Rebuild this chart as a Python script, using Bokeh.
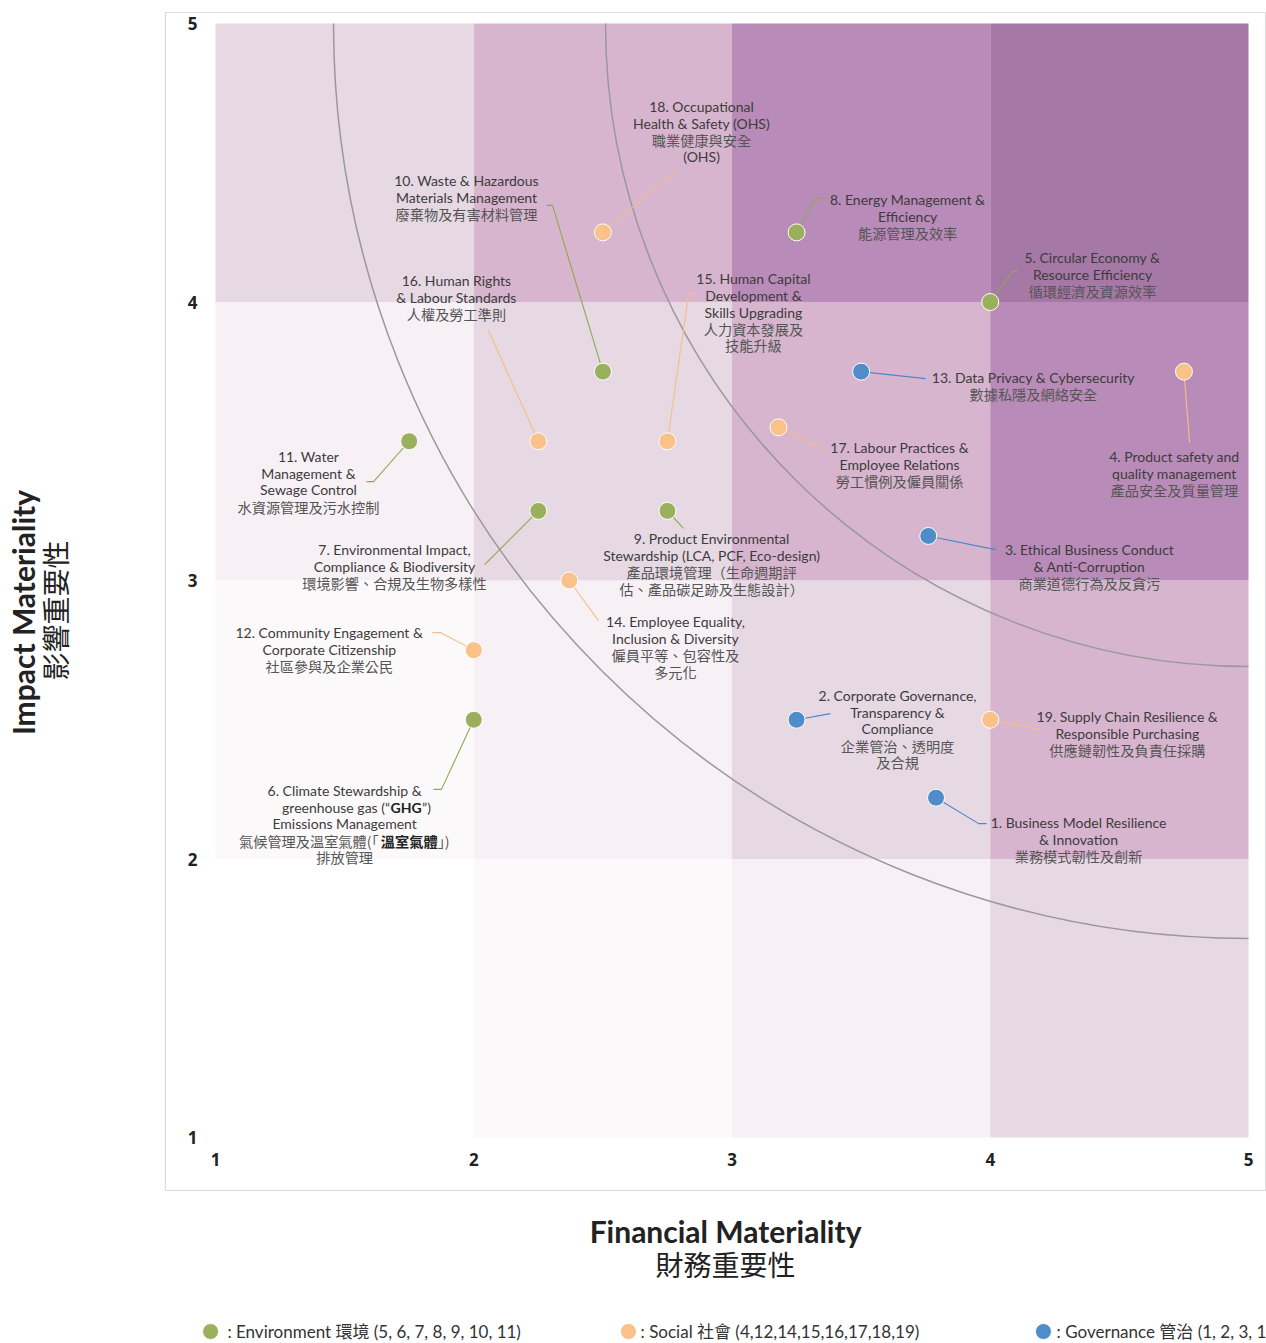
import numpy as np
from bokeh.plotting import figure
from bokeh.models import Range1d, ColumnDataSource
from bokeh.core.properties import value
from bokeh.embed import file_html
from bokeh.resources import INLINE

# ---------------- data ----------------
env_ids = [5, 6, 7, 8, 9, 10, 11]
env_fin = [4.0, 2.0, 2.25, 3.25, 2.75, 2.5, 1.75]
env_imp = [4.0, 2.5, 3.25, 4.25, 3.25, 3.75, 3.5]

soc_ids = [4, 12, 14, 15, 16, 17, 18, 19]
soc_fin = [4.75, 2.0, 2.37, 2.75, 2.25, 3.18, 2.5, 4.0]
soc_imp = [3.75, 2.75, 3.0, 3.5, 3.5, 3.55, 4.25, 2.5]

gov_ids = [1, 2, 3, 13]
gov_fin = [3.79, 3.25, 3.76, 3.5]
gov_imp = [2.22, 2.5, 3.16, 3.75]

tick_values = [1, 2, 3, 4, 5]
tick_labels = ["1", "2", "3", "4", "5"]

band_edges = [1, 2, 3, 4, 5]
# rows: impact 1-2, 2-3, 3-4, 4-5 ; columns: financial 1-2 .. 4-5
cell_colors = [
    ["#ffffff", "#fcf9fb", "#f7f1f6", "#e6d9e4"],
    ["#fcf9fb", "#f7f1f6", "#e6d9e4", "#d7b5cf"],
    ["#f7f1f6", "#e6d9e4", "#d7b5cf", "#b98bb8"],
    ["#e6d9e4", "#d7b5cf", "#b98bb8", "#a578a6"],
]

topic_text = {
    1: ["1. Business Model Resilience", "& Innovation", "業務模式韌性及創新"],
    2: ["2. Corporate Governance,", "Transparency &", "Compliance", "企業管治、透明度", "及合規"],
    3: ["3. Ethical Business Conduct", "& Anti-Corruption", "商業道德行為及反貪污"],
    4: ["4. Product safety and", "quality management", "產品安全及質量管理"],
    5: ["5. Circular Economy &", "Resource Efficiency", "循環經濟及資源效率"],
    6: ["6. Climate Stewardship &", None, "Emissions Management", None, "排放管理"],
    7: ["7. Environmental Impact,", "Compliance & Biodiversity", "環境影響、合規及生物多樣性"],
    8: ["8. Energy Management &", "Efficiency", "能源管理及效率"],
    9: ["9. Product Environmental", "Stewardship (LCA, PCF, Eco-design)", "產品環境管理（生命週期評", "估、產品碳足跡及生態設計）"],
    10: ["10. Waste & Hazardous", "Materials Management", "廢棄物及有害材料管理"],
    11: ["11. Water", "Management &", "Sewage Control", "水資源管理及污水控制"],
    12: ["12. Community Engagement &", "Corporate Citizenship", "社區參與及企業公民"],
    13: ["13. Data Privacy & Cybersecurity", "數據私隱及網絡安全"],
    14: ["14. Employee Equality,", "Inclusion & Diversity", "僱員平等、包容性及", "多元化"],
    15: ["15. Human Capital", "Development &", "Skills Upgrading", "人力資本發展及", "技能升級"],
    16: ["16. Human Rights", "& Labour Standards", "人權及勞工準則"],
    17: ["17. Labour Practices &", "Employee Relations", "勞工慣例及僱員關係"],
    18: ["18. Occupational", "Health & Safety (OHS)", "職業健康與安全", "(OHS)"],
    19: ["19. Supply Chain Resilience &", "Responsible Purchasing", "供應鏈韌性及負責任採購"],
}
ghg_line = ["greenhouse gas (“", "GHG", "”)"]
ghg_cjk_line = ["氣候管理及溫室氣體(「", "溫室氣體", "」)"]

legend_labels = [": Environment 環境 (5, 6, 7, 8, 9, 10, 11)",
                 ": Social 社會 (4,12,14,15,16,17,18,19)",
                 ": Governance 管治 (1, 2, 3, 13)"]

# ---------------- layout (label anchors and leader waypoints, data units) ----------------
label_pos = {
    10: (1.972, 4.436), 18: (2.882, 4.702), 8: (3.680, 4.368), 5: (4.396, 4.160),
    16: (1.933, 4.077), 15: (3.083, 4.084), 13: (4.167, 3.729), 4: (4.713, 3.445),
    17: (3.649, 3.478), 11: (1.360, 3.445), 7: (1.693, 3.111), 9: (2.921, 3.151),
    3: (4.384, 3.111), 14: (2.781, 2.853), 12: (1.441, 2.813), 2: (3.641, 2.587),
    19: (4.531, 2.512), 1: (4.342, 2.131), 6: (1.500, 2.246),
}
leader_path = {
    10: [(2.305, 4.347), (2.282, 4.347)],
    18: [(2.785, 4.472)],
    8: [(3.323, 4.372), (3.350, 4.372)],
    5: [(4.086, 4.110), (4.109, 4.110)],
    16: [(2.057, 3.898)],
    15: [(2.832, 4.031), (2.859, 4.031)],
    13: [(3.749, 3.725)],
    4: [(4.772, 3.496)],
    17: [(3.354, 3.470)],
    11: [(1.612, 3.355), (1.585, 3.355)],
    7: [(2.042, 3.057)],
    9: [(2.812, 3.187)],
    3: [(4.020, 3.111)],
    14: [(2.483, 2.856)],
    12: [(1.871, 2.813), (1.840, 2.813)],
    2: [(3.381, 2.522)],
    19: [(4.195, 2.465)],
    1: [(3.955, 2.127), (3.986, 2.127)],
    6: [(1.875, 2.250), (1.844, 2.250)],
}
LINE_H = 16.7 / 278.5

GREEN, ORANGE, BLUE = "#9bb05c", "#fac189", "#508bca"
GREEN_L, ORANGE_L, BLUE_L = "#8fa84f", "#f7bd84", "#4a86c8"
EN_FONT = value("Lato, 'Noto Sans CJK TC', sans-serif")
CJK_FONT = value("'Noto Sans CJK TC', sans-serif")
EN_SIZE = "14px"
CJK_SIZE = "14.2px"

p = figure(width=1266, height=1343, output_backend="svg", toolbar_location=None,
           x_range=Range1d(0.16747, 5.0697), y_range=Range1d(0.26033, 5.08259),
           min_border=0, min_border_left=0, min_border_right=0,
           min_border_top=0, min_border_bottom=0)
p.axis.visible = False
p.grid.visible = False
p.outline_line_color = None
p.background_fill_color = "white"
p.border_fill_color = "white"

# outer grey box
p.quad(left=[0.806], right=[5.066], bottom=[0.8097], top=[5.0395],
       fill_color=None, line_color="#dcdcdc", line_width=1.2)

# background cells
cl, cr, cb, ct, cc = [], [], [], [], []
for r in range(4):
    for c in range(4):
        cl.append(band_edges[c]); cr.append(band_edges[c + 1])
        cb.append(band_edges[r]); ct.append(band_edges[r + 1])
        cc.append(cell_colors[r][c])
p.quad(left=cl, right=cr, bottom=cb, top=ct, fill_color=cc, line_color=None)

# threshold arcs (circles centred on the top-right corner)
p.arc(x=[5, 5], y=[5, 5], radius=[915, 643], radius_units="screen",
      start_angle=np.pi, end_angle=1.5 * np.pi, line_color="#999999", line_width=1.5)

# leader lines
lx, ly, lc = [], [], []
for ids, fx, fy, col in [(env_ids, env_fin, env_imp, GREEN_L),
                         (soc_ids, soc_fin, soc_imp, ORANGE_L),
                         (gov_ids, gov_fin, gov_imp, BLUE_L)]:
    for i, tid in enumerate(ids):
        pts = [(fx[i], fy[i])] + leader_path[tid]
        lx.append([q[0] for q in pts]); ly.append([q[1] for q in pts]); lc.append(col)
p.multi_line(xs=lx, ys=ly, line_color=lc, line_width=1.1)

# points
p.scatter(env_fin, env_imp, size=17, fill_color=GREEN, line_color="white", line_width=1)
p.scatter(soc_fin, soc_imp, size=17, fill_color=ORANGE, line_color="white", line_width=1)
p.scatter(gov_fin, gov_imp, size=17, fill_color=BLUE, line_color="white", line_width=1)

# labels
def is_cjk(s):
    return any(ord(ch) > 0x2E80 for ch in s)

en = dict(x=[], y=[], t=[])
cj = dict(x=[], y=[], t=[])
for tid, lines in topic_text.items():
    cx, cy = label_pos[tid]
    for k, s in enumerate(lines):
        if s is None:
            continue
        d = cj if is_cjk(s) else en
        d["x"].append(cx); d["y"].append(cy - k * LINE_H); d["t"].append(s)
p.text(x="x", y="y", text="t", source=ColumnDataSource(en), text_font=EN_FONT,
       text_font_size=EN_SIZE, text_color="#3c3c3c", text_align="center", text_baseline="middle")
p.text(x="x", y="y", text="t", source=ColumnDataSource(cj), text_font=CJK_FONT,
       text_font_size=CJK_SIZE, text_color="#555555", text_align="center", text_baseline="middle")

# label 6 mixed-weight lines
cx6, cy6 = label_pos[6]
gx = 1.738  # centre of bold "GHG"
half = 16 / 258.25
y2 = cy6 - LINE_H
p.text(x=[gx - half], y=[y2], text=[ghg_line[0]], text_font=EN_FONT, text_font_size=EN_SIZE,
       text_color="#3c3c3c", text_align="right", text_baseline="middle")
p.text(x=[gx], y=[y2], text=[ghg_line[1]], text_font=EN_FONT, text_font_size=EN_SIZE,
       text_font_style="bold", text_color="#222222", text_align="center", text_baseline="middle")
p.text(x=[gx + half], y=[y2], text=[ghg_line[2]], text_font=EN_FONT, text_font_size=EN_SIZE,
       text_color="#3c3c3c", text_align="left", text_baseline="middle")
cgx = 1.750
chalf = 28.5 / 258.25
y4 = cy6 - 3 * LINE_H
p.text(x=[cgx - chalf + 5 / 258.25], y=[y4], text=[ghg_cjk_line[0]], text_font=CJK_FONT,
       text_font_size=CJK_SIZE, text_color="#555555", text_align="right", text_baseline="middle")
p.text(x=[cgx], y=[y4], text=[ghg_cjk_line[1]], text_font=CJK_FONT, text_font_size=CJK_SIZE,
       text_font_style="bold", text_color="#222222", text_align="center", text_baseline="middle")
p.text(x=[cgx + chalf], y=[y4], text=[ghg_cjk_line[2]], text_font=CJK_FONT, text_font_size=CJK_SIZE,
       text_color="#555555", text_align="left", text_baseline="middle")

# tick labels
TICK_FONT = value("'Open Sans', sans-serif")
p.text(x=[0.911] * 5, y=tick_values, text=tick_labels, text_font=TICK_FONT,
       text_font_size="17px", text_font_style="bold", text_color="#222222",
       text_align="center", text_baseline="middle")
p.text(x=tick_values, y=[0.921] * 5, text=tick_labels, text_font=TICK_FONT,
       text_font_size="17px", text_font_style="bold", text_color="#222222",
       text_align="center", text_baseline="middle")

# axis titles
TITLE_FONT = value("Lato, 'Noto Sans CJK TC', sans-serif")
p.text(x=[0.2527], y=[2.885], text=["Impact Materiality"], angle=np.pi / 2,
       text_font=TITLE_FONT, text_font_size="30px", text_font_style="bold",
       text_color="#222222", text_align="center", text_baseline="middle")
p.text(x=[0.3804], y=[2.892], text=["影響重要性"], angle=np.pi / 2,
       text_font=CJK_FONT, text_font_size="28px", text_font_style="normal",
       text_color="#222222", text_align="center", text_baseline="middle")
p.text(x=[2.975], y=[0.6625], text=["Financial Materiality"],
       text_font=TITLE_FONT, text_font_size="30px", text_font_style="bold",
       text_color="#222222", text_align="center", text_baseline="middle")
p.text(x=[2.975], y=[0.544], text=["財務重要性"],
       text_font=CJK_FONT, text_font_size="28px", text_font_style="normal",
       text_color="#222222", text_align="center", text_baseline="middle")

# legend
leg_x = [0.981, 2.599, 4.206]
leg_tx = [1.046, 2.646, 4.257]
leg_y = 0.3034
p.scatter(leg_x, [leg_y] * 3, size=16, fill_color=[GREEN, ORANGE, BLUE], line_color="white")
p.text(x=leg_tx, y=[leg_y] * 3, text=legend_labels, text_font=EN_FONT,
       text_font_size="17px", text_color="#333333", text_align="left", text_baseline="middle")

open("out.html", "w").write(file_html(p, INLINE))
